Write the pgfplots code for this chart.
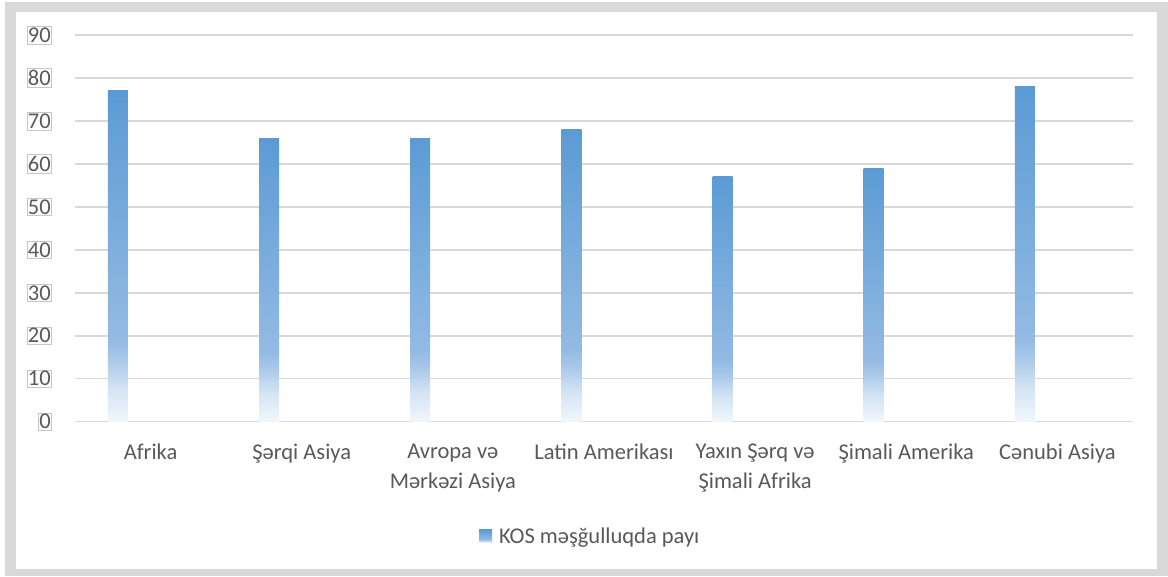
\documentclass[border=0pt]{standalone}
\usepackage{fontspec}
\setmainfont{Carlito}
\usepackage{pgfplots}
\pgfplotsset{compat=1.18}
\definecolor{fa}{HTML}{F2F7FC}
\definecolor{fb}{HTML}{D4E4F4}
\definecolor{fc}{HTML}{A4C5E9}
\definecolor{fd}{HTML}{93BAE3}
\definecolor{fe}{HTML}{5B9BD5}
\definecolor{framegray}{HTML}{D9D9D9}
\definecolor{txt}{HTML}{595959}
\pgfdeclareverticalshading{barfade}{100bp}{color(0bp)=(fa); color(25bp)=(fa); color(30bp)=(fb); color(35bp)=(fc); color(37.5bp)=(fd); color(75bp)=(fe); color(100bp)=(fe)}
\begin{document}
\begin{tikzpicture}
\path (0pt,0pt) rectangle (1168pt,-576pt);
\fill[framegray] (5pt,-2pt) rectangle (1168pt,-576pt);
\fill[white] (16pt,-12pt) rectangle (1157pt,-569pt);
\begin{axis}[
  at={(75pt,-421.7pt)}, anchor=south west,
  scale only axis, width=1058pt, height=386.7pt,
  xmin=-0.5, xmax=6.5, ymin=0, ymax=90,
  ytick={0,10,...,90},
  xtick={0,...,6},
  xticklabels={Afrika, Şərqi Asiya, {Avropa və\\Mərkəzi Asiya}, Latin Amerikası, {Yaxın Şərq və\\Şimali Afrika}, Şimali Amerika, Cənubi Asiya},
  ymajorgrids,
  grid style={framegray, line width=1.5pt},
  axis line style={draw=none},
  major tick length=0pt,
  /pgf/number format/assume math mode=true,
  tick label style={font=\fontsize{22.5}{30}\selectfont, text=txt},
  xticklabel style={align=center, yshift=-19pt},
  yticklabel style={fill=white, draw=black!22, line width=0.6pt, inner xsep=1pt, inner ysep=1.5pt, xshift=-23pt},
  legend style={at={(0.487,-0.296)}, anchor=center, draw=none, fill=none, font=\fontsize{22.5}{29}\selectfont, text=txt},
  legend image code/.code={\path[shade, shading=barfade] (0pt,-6.5pt) rectangle (13pt,6.5pt); \path (18pt,0pt);},
  clip=false,
]
\addplot[ybar, bar width=20pt, bar shift=-32.6pt, draw=none, shade, shading=barfade] coordinates {(0,77)};
\addlegendentry{KOS məşğulluqda payı}
\addplot[ybar, bar width=20pt, bar shift=-32.6pt, draw=none, shade, shading=barfade, forget plot] coordinates {(1,66)};
\addplot[ybar, bar width=20pt, bar shift=-32.6pt, draw=none, shade, shading=barfade, forget plot] coordinates {(2,66)};
\addplot[ybar, bar width=20pt, bar shift=-32.6pt, draw=none, shade, shading=barfade, forget plot] coordinates {(3,68)};
\addplot[ybar, bar width=20pt, bar shift=-32.6pt, draw=none, shade, shading=barfade, forget plot] coordinates {(4,57)};
\addplot[ybar, bar width=20pt, bar shift=-32.6pt, draw=none, shade, shading=barfade, forget plot] coordinates {(5,59)};
\addplot[ybar, bar width=20pt, bar shift=-32.6pt, draw=none, shade, shading=barfade, forget plot] coordinates {(6,78)};
\end{axis}
\end{tikzpicture}
\end{document}
